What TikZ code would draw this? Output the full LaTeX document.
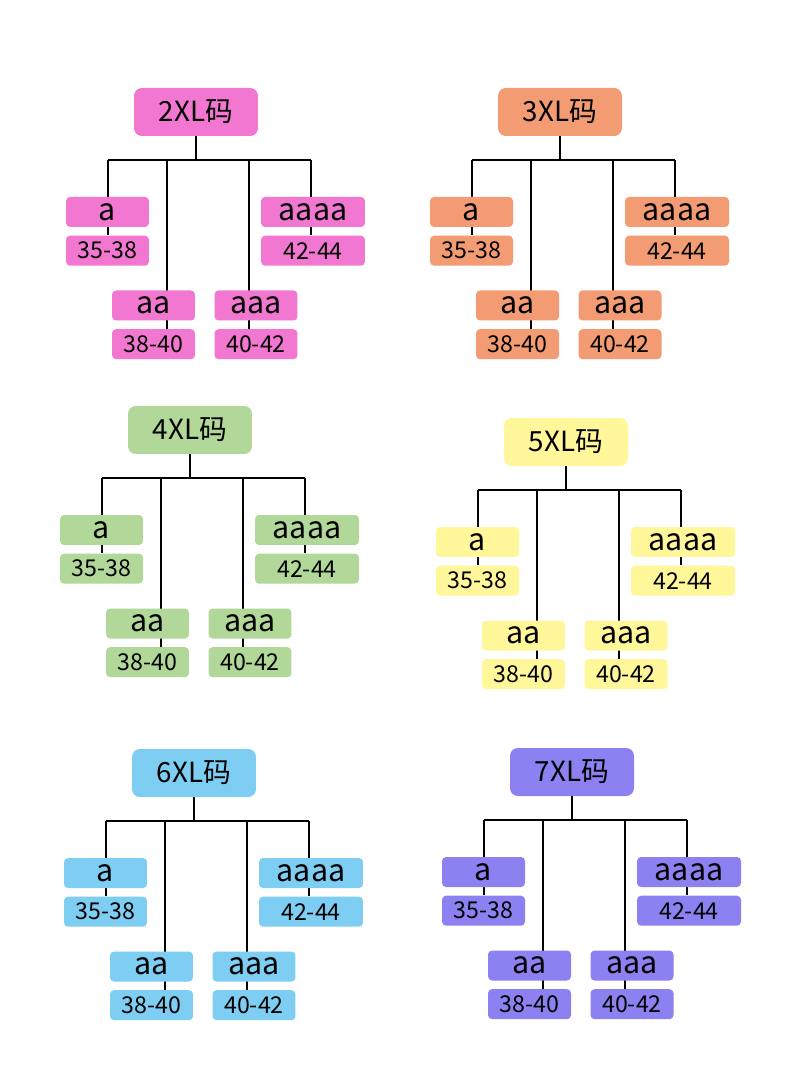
\documentclass[tikz,border=0pt]{standalone}
\usepackage{fontspec}
\setmainfont{Noto Sans CJK SC}
\usetikzlibrary{positioning,backgrounds}
\definecolor{szpink}{HTML}{F277D0}
\definecolor{szorange}{HTML}{F39B73}
\definecolor{szgreen}{HTML}{B1D899}
\definecolor{szyellow}{HTML}{FFF79A}
\definecolor{szblue}{HTML}{7ECEF4}
\definecolor{szpurple}{HTML}{8B81F1}

\begin{document}
\begin{tikzpicture}[
  x=0.02cm, y=-0.02cm,
  root/.style={rectangle, rounded corners=4.5pt, fill=#1, inner sep=0pt,
               minimum width=2.48cm, minimum height=0.96cm,
               font=\fontsize{15.8}{18}\selectfont},
  tag/.style={rectangle, rounded corners=2.3pt, fill=#1, inner sep=0pt,
              minimum width=1.66cm, minimum height=0.6cm,
              font=\fontsize{17.3}{19}\selectfont},
  num/.style={tag=#1, font=\fontsize{13.2}{15}\selectfont},
  wide/.style={minimum width=2.08cm},
  link/.style={black, line width=0.6pt}
]

%% -- page ------------------------------------------------------
\begin{scope}[on background layer]
  \fill[white] (0,0) rectangle (790,1070);
\end{scope}
\useasboundingbox (0,0) rectangle (790,1070);

%% -- trees -----------------------------------------------------
\foreach \nm/\cx/\cy/\col in {2XL/196/112/szpink, 3XL/560/112/szorange,
    4XL/190/430/szgreen, 5XL/566/442/szyellow,
    6XL/194/773/szblue, 7XL/572/772/szpurple} {
  \begin{scope}[shift={(\cx,\cy)}]
    \node[root=\col] (\nm) at (0,0) {\nm{}码};

    \node[tag=\col] (\nm-a) at (-88.5,100) {a};
    \node[num=\col, below=0.16cm of \nm-a] (\nm-n1) {35-38};
    \node[tag=\col] (\nm-aa) at (-42.5,193.5) {aa};
    \node[num=\col, below=0.16cm of \nm-aa] (\nm-n2) {38-40};
    \node[tag=\col] (\nm-aaa) at (60,193.5) {aaa};
    \node[num=\col, below=0.16cm of \nm-aaa] (\nm-n3) {40-42};
    \node[tag=\col, wide] (\nm-aaaa) at (117,100) {aaaa};
    \node[num=\col, wide, below=0.16cm of \nm-aaaa] (\nm-n4) {42-44};

    \coordinate (\nm-bus) at (0,48);
    \coordinate (\nm-b1) at (-88,48);
    \coordinate (\nm-b2) at (-29,48);
    \coordinate (\nm-b3) at (53,48);
    \coordinate (\nm-b4) at (115,48);

    \begin{scope}[on background layer]
      \draw[link] (\nm.south) -- (\nm-bus);
      \draw[link] (\nm-b1) -- (\nm-b4);
      \draw[link] (\nm-b1) -- (\nm-b1 |- \nm-n1.north);
      \draw[link] (\nm-b2) -- (\nm-b2 |- \nm-n2.north);
      \draw[link] (\nm-b3) -- (\nm-b3 |- \nm-n3.north);
      \draw[link] (\nm-b4) -- (\nm-b4 |- \nm-n4.north);
    \end{scope}
  \end{scope}
}

\end{tikzpicture}
\end{document}
